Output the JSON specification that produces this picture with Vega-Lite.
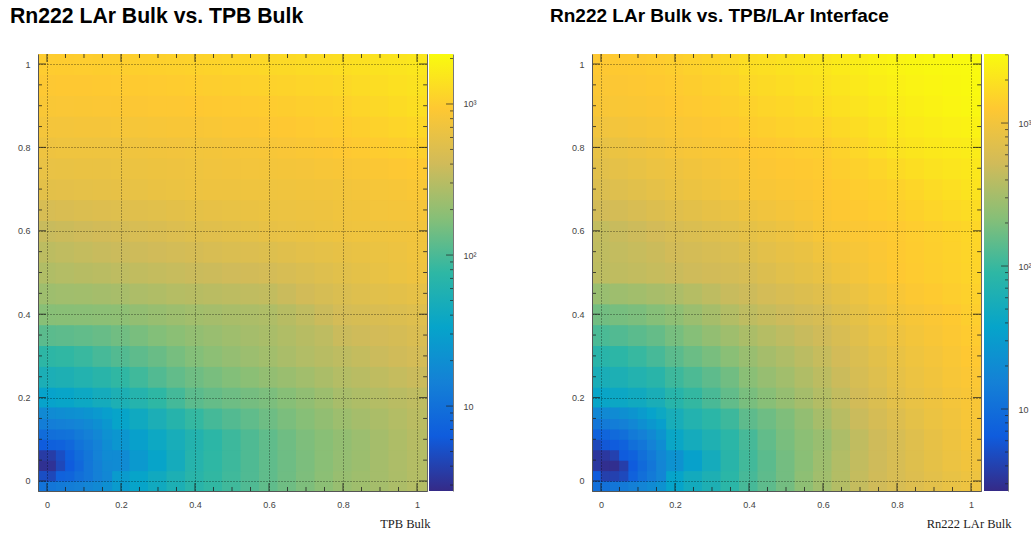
{"$schema":"https://vega.github.io/schema/vega-lite/v6.json","bounds":"flush","padding":{"left":9,"top":5,"right":0,"bottom":0},"background":"white","config":{"view":{"stroke":"#666666"},"concat":{"spacing":0},"axis":{"labelFont":"Liberation Sans","labelFontSize":9,"labelColor":"#444444"}},"datasets":{"a":[
{"x":0,"y":0,"v":10},{"x":0.05,"y":0,"v":12},{"x":0.1,"y":0,"v":15},{"x":0.15,"y":0,"v":21},{"x":0.2,"y":0,"v":30},{"x":0.25,"y":0,"v":38},{"x":0.3,"y":0,"v":48},{"x":0.35,"y":0,"v":62},{"x":0.4,"y":0,"v":80},{"x":0.45,"y":0,"v":93},{"x":0.5,"y":0,"v":108},{"x":0.55,"y":0,"v":126},{"x":0.6,"y":0,"v":148},{"x":0.65,"y":0,"v":172},{"x":0.7,"y":0,"v":198},{"x":0.75,"y":0,"v":230},{"x":0.8,"y":0,"v":265},{"x":0.85,"y":0,"v":288},{"x":0.9,"y":0,"v":312},{"x":0.95,"y":0,"v":338},{"x":1,"y":0,"v":365},
{"x":0,"y":0.05,"v":3.5},{"x":0.05,"y":0.05,"v":5},{"x":0.1,"y":0.05,"v":8},{"x":0.15,"y":0.05,"v":13},{"x":0.2,"y":0.05,"v":20},{"x":0.25,"y":0.05,"v":28},{"x":0.3,"y":0.05,"v":38},{"x":0.35,"y":0.05,"v":52},{"x":0.4,"y":0.05,"v":75},{"x":0.45,"y":0.05,"v":90},{"x":0.5,"y":0.05,"v":105},{"x":0.55,"y":0.05,"v":125},{"x":0.6,"y":0.05,"v":148},{"x":0.65,"y":0.05,"v":170},{"x":0.7,"y":0.05,"v":195},{"x":0.75,"y":0.05,"v":225},{"x":0.8,"y":0.05,"v":255},{"x":0.85,"y":0.05,"v":280},{"x":0.9,"y":0.05,"v":310},{"x":0.95,"y":0.05,"v":340},{"x":1,"y":0.05,"v":372},
{"x":0,"y":0.1,"v":8.5},{"x":0.05,"y":0.1,"v":10},{"x":0.1,"y":0.1,"v":13},{"x":0.15,"y":0.1,"v":18},{"x":0.2,"y":0.1,"v":26},{"x":0.25,"y":0.1,"v":34},{"x":0.3,"y":0.1,"v":44},{"x":0.35,"y":0.1,"v":56},{"x":0.4,"y":0.1,"v":71},{"x":0.45,"y":0.1,"v":87},{"x":0.5,"y":0.1,"v":105},{"x":0.55,"y":0.1,"v":125},{"x":0.6,"y":0.1,"v":148},{"x":0.65,"y":0.1,"v":172},{"x":0.7,"y":0.1,"v":198},{"x":0.75,"y":0.1,"v":222},{"x":0.8,"y":0.1,"v":250},{"x":0.85,"y":0.1,"v":278},{"x":0.9,"y":0.1,"v":310},{"x":0.95,"y":0.1,"v":345},{"x":1,"y":0.1,"v":380},
{"x":0,"y":0.15,"v":20},{"x":0.05,"y":0.15,"v":21},{"x":0.1,"y":0.15,"v":24},{"x":0.15,"y":0.15,"v":30},{"x":0.2,"y":0.15,"v":38},{"x":0.25,"y":0.15,"v":47},{"x":0.3,"y":0.15,"v":60},{"x":0.35,"y":0.15,"v":76},{"x":0.4,"y":0.15,"v":96},{"x":0.45,"y":0.15,"v":113},{"x":0.5,"y":0.15,"v":130},{"x":0.55,"y":0.15,"v":148},{"x":0.6,"y":0.15,"v":170},{"x":0.65,"y":0.15,"v":192},{"x":0.7,"y":0.15,"v":218},{"x":0.75,"y":0.15,"v":248},{"x":0.8,"y":0.15,"v":282},{"x":0.85,"y":0.15,"v":310},{"x":0.9,"y":0.15,"v":335},{"x":0.95,"y":0.15,"v":365},{"x":1,"y":0.15,"v":400},
{"x":0,"y":0.2,"v":36},{"x":0.05,"y":0.2,"v":39},{"x":0.1,"y":0.2,"v":44},{"x":0.15,"y":0.2,"v":52},{"x":0.2,"y":0.2,"v":62},{"x":0.25,"y":0.2,"v":74},{"x":0.3,"y":0.2,"v":90},{"x":0.35,"y":0.2,"v":112},{"x":0.4,"y":0.2,"v":140},{"x":0.45,"y":0.2,"v":155},{"x":0.5,"y":0.2,"v":170},{"x":0.55,"y":0.2,"v":182},{"x":0.6,"y":0.2,"v":195},{"x":0.65,"y":0.2,"v":218},{"x":0.7,"y":0.2,"v":245},{"x":0.75,"y":0.2,"v":280},{"x":0.8,"y":0.2,"v":320},{"x":0.85,"y":0.2,"v":345},{"x":0.9,"y":0.2,"v":370},{"x":0.95,"y":0.2,"v":395},{"x":1,"y":0.2,"v":420},
{"x":0,"y":0.25,"v":60},{"x":0.05,"y":0.25,"v":63},{"x":0.1,"y":0.25,"v":70},{"x":0.15,"y":0.25,"v":80},{"x":0.2,"y":0.25,"v":92},{"x":0.25,"y":0.25,"v":108},{"x":0.3,"y":0.25,"v":128},{"x":0.35,"y":0.25,"v":150},{"x":0.4,"y":0.25,"v":172},{"x":0.45,"y":0.25,"v":190},{"x":0.5,"y":0.25,"v":208},{"x":0.55,"y":0.25,"v":228},{"x":0.6,"y":0.25,"v":250},{"x":0.65,"y":0.25,"v":272},{"x":0.7,"y":0.25,"v":300},{"x":0.75,"y":0.25,"v":335},{"x":0.8,"y":0.25,"v":370},{"x":0.85,"y":0.25,"v":395},{"x":0.9,"y":0.25,"v":425},{"x":0.95,"y":0.25,"v":455},{"x":1,"y":0.25,"v":480},
{"x":0,"y":0.3,"v":88},{"x":0.05,"y":0.3,"v":92},{"x":0.1,"y":0.3,"v":100},{"x":0.15,"y":0.3,"v":115},{"x":0.2,"y":0.3,"v":130},{"x":0.25,"y":0.3,"v":145},{"x":0.3,"y":0.3,"v":162},{"x":0.35,"y":0.3,"v":185},{"x":0.4,"y":0.3,"v":210},{"x":0.45,"y":0.3,"v":232},{"x":0.5,"y":0.3,"v":255},{"x":0.55,"y":0.3,"v":278},{"x":0.6,"y":0.3,"v":300},{"x":0.65,"y":0.3,"v":330},{"x":0.7,"y":0.3,"v":360},{"x":0.75,"y":0.3,"v":390},{"x":0.8,"y":0.3,"v":420},{"x":0.85,"y":0.3,"v":450},{"x":0.9,"y":0.3,"v":485},{"x":0.95,"y":0.3,"v":520},{"x":1,"y":0.3,"v":550},
{"x":0,"y":0.35,"v":140},{"x":0.05,"y":0.35,"v":145},{"x":0.1,"y":0.35,"v":150},{"x":0.15,"y":0.35,"v":160},{"x":0.2,"y":0.35,"v":175},{"x":0.25,"y":0.35,"v":190},{"x":0.3,"y":0.35,"v":208},{"x":0.35,"y":0.35,"v":228},{"x":0.4,"y":0.35,"v":250},{"x":0.45,"y":0.35,"v":270},{"x":0.5,"y":0.35,"v":290},{"x":0.55,"y":0.35,"v":310},{"x":0.6,"y":0.35,"v":325},{"x":0.65,"y":0.35,"v":355},{"x":0.7,"y":0.35,"v":385},{"x":0.75,"y":0.35,"v":420},{"x":0.8,"y":0.35,"v":480},{"x":0.85,"y":0.35,"v":510},{"x":0.9,"y":0.35,"v":540},{"x":0.95,"y":0.35,"v":570},{"x":1,"y":0.35,"v":610},
{"x":0,"y":0.4,"v":220},{"x":0.05,"y":0.4,"v":222},{"x":0.1,"y":0.4,"v":225},{"x":0.15,"y":0.4,"v":230},{"x":0.2,"y":0.4,"v":235},{"x":0.25,"y":0.4,"v":250},{"x":0.3,"y":0.4,"v":265},{"x":0.35,"y":0.4,"v":282},{"x":0.4,"y":0.4,"v":300},{"x":0.45,"y":0.4,"v":312},{"x":0.5,"y":0.4,"v":325},{"x":0.55,"y":0.4,"v":338},{"x":0.6,"y":0.4,"v":350},{"x":0.65,"y":0.4,"v":385},{"x":0.7,"y":0.4,"v":430},{"x":0.75,"y":0.4,"v":490},{"x":0.8,"y":0.4,"v":550},{"x":0.85,"y":0.4,"v":580},{"x":0.9,"y":0.4,"v":610},{"x":0.95,"y":0.4,"v":640},{"x":1,"y":0.4,"v":670},
{"x":0,"y":0.45,"v":285},{"x":0.05,"y":0.45,"v":295},{"x":0.1,"y":0.45,"v":300},{"x":0.15,"y":0.45,"v":310},{"x":0.2,"y":0.45,"v":320},{"x":0.25,"y":0.45,"v":340},{"x":0.3,"y":0.45,"v":355},{"x":0.35,"y":0.45,"v":375},{"x":0.4,"y":0.45,"v":385},{"x":0.45,"y":0.45,"v":400},{"x":0.5,"y":0.45,"v":415},{"x":0.55,"y":0.45,"v":430},{"x":0.6,"y":0.45,"v":440},{"x":0.65,"y":0.45,"v":480},{"x":0.7,"y":0.45,"v":530},{"x":0.75,"y":0.45,"v":580},{"x":0.8,"y":0.45,"v":630},{"x":0.85,"y":0.45,"v":670},{"x":0.9,"y":0.45,"v":710},{"x":0.95,"y":0.45,"v":750},{"x":1,"y":0.45,"v":790},
{"x":0,"y":0.5,"v":355},{"x":0.05,"y":0.5,"v":370},{"x":0.1,"y":0.5,"v":385},{"x":0.15,"y":0.5,"v":400},{"x":0.2,"y":0.5,"v":420},{"x":0.25,"y":0.5,"v":435},{"x":0.3,"y":0.5,"v":450},{"x":0.35,"y":0.5,"v":465},{"x":0.4,"y":0.5,"v":480},{"x":0.45,"y":0.5,"v":495},{"x":0.5,"y":0.5,"v":515},{"x":0.55,"y":0.5,"v":530},{"x":0.6,"y":0.5,"v":550},{"x":0.65,"y":0.5,"v":590},{"x":0.7,"y":0.5,"v":630},{"x":0.75,"y":0.5,"v":675},{"x":0.8,"y":0.5,"v":720},{"x":0.85,"y":0.5,"v":765},{"x":0.9,"y":0.5,"v":815},{"x":0.95,"y":0.5,"v":870},{"x":1,"y":0.5,"v":930},
{"x":0,"y":0.55,"v":410},{"x":0.05,"y":0.55,"v":430},{"x":0.1,"y":0.55,"v":450},{"x":0.15,"y":0.55,"v":470},{"x":0.2,"y":0.55,"v":485},{"x":0.25,"y":0.55,"v":505},{"x":0.3,"y":0.55,"v":525},{"x":0.35,"y":0.55,"v":545},{"x":0.4,"y":0.55,"v":570},{"x":0.45,"y":0.55,"v":595},{"x":0.5,"y":0.55,"v":620},{"x":0.55,"y":0.55,"v":645},{"x":0.6,"y":0.55,"v":665},{"x":0.65,"y":0.55,"v":700},{"x":0.7,"y":0.55,"v":740},{"x":0.75,"y":0.55,"v":775},{"x":0.8,"y":0.55,"v":810},{"x":0.85,"y":0.55,"v":840},{"x":0.9,"y":0.55,"v":870},{"x":0.95,"y":0.55,"v":900},{"x":1,"y":0.55,"v":955},
{"x":0,"y":0.6,"v":470},{"x":0.05,"y":0.6,"v":490},{"x":0.1,"y":0.6,"v":510},{"x":0.15,"y":0.6,"v":535},{"x":0.2,"y":0.6,"v":560},{"x":0.25,"y":0.6,"v":585},{"x":0.3,"y":0.6,"v":615},{"x":0.35,"y":0.6,"v":645},{"x":0.4,"y":0.6,"v":680},{"x":0.45,"y":0.6,"v":705},{"x":0.5,"y":0.6,"v":735},{"x":0.55,"y":0.6,"v":765},{"x":0.6,"y":0.6,"v":800},{"x":0.65,"y":0.6,"v":830},{"x":0.7,"y":0.6,"v":860},{"x":0.75,"y":0.6,"v":890},{"x":0.8,"y":0.6,"v":920},{"x":0.85,"y":0.6,"v":935},{"x":0.9,"y":0.6,"v":950},{"x":0.95,"y":0.6,"v":965},{"x":1,"y":0.6,"v":980},
{"x":0,"y":0.65,"v":590},{"x":0.05,"y":0.65,"v":610},{"x":0.1,"y":0.65,"v":635},{"x":0.15,"y":0.65,"v":660},{"x":0.2,"y":0.65,"v":670},{"x":0.25,"y":0.65,"v":695},{"x":0.3,"y":0.65,"v":720},{"x":0.35,"y":0.65,"v":750},{"x":0.4,"y":0.65,"v":780},{"x":0.45,"y":0.65,"v":800},{"x":0.5,"y":0.65,"v":825},{"x":0.55,"y":0.65,"v":850},{"x":0.6,"y":0.65,"v":870},{"x":0.65,"y":0.65,"v":885},{"x":0.7,"y":0.65,"v":905},{"x":0.75,"y":0.65,"v":925},{"x":0.8,"y":0.65,"v":960},{"x":0.85,"y":0.65,"v":985},{"x":0.9,"y":0.65,"v":1010},{"x":0.95,"y":0.65,"v":1035},{"x":1,"y":0.65,"v":1060},
{"x":0,"y":0.7,"v":745},{"x":0.05,"y":0.7,"v":755},{"x":0.1,"y":0.7,"v":770},{"x":0.15,"y":0.7,"v":785},{"x":0.2,"y":0.7,"v":800},{"x":0.25,"y":0.7,"v":825},{"x":0.3,"y":0.7,"v":850},{"x":0.35,"y":0.7,"v":875},{"x":0.4,"y":0.7,"v":900},{"x":0.45,"y":0.7,"v":915},{"x":0.5,"y":0.7,"v":925},{"x":0.55,"y":0.7,"v":935},{"x":0.6,"y":0.7,"v":950},{"x":0.65,"y":0.7,"v":960},{"x":0.7,"y":0.7,"v":975},{"x":0.75,"y":0.7,"v":990},{"x":0.8,"y":0.7,"v":1000},{"x":0.85,"y":0.7,"v":1035},{"x":0.9,"y":0.7,"v":1070},{"x":0.95,"y":0.7,"v":1110},{"x":1,"y":0.7,"v":1150},
{"x":0,"y":0.75,"v":830},{"x":0.05,"y":0.75,"v":840},{"x":0.1,"y":0.75,"v":850},{"x":0.15,"y":0.75,"v":860},{"x":0.2,"y":0.75,"v":870},{"x":0.25,"y":0.75,"v":890},{"x":0.3,"y":0.75,"v":910},{"x":0.35,"y":0.75,"v":930},{"x":0.4,"y":0.75,"v":950},{"x":0.45,"y":0.75,"v":970},{"x":0.5,"y":0.75,"v":990},{"x":0.55,"y":0.75,"v":1010},{"x":0.6,"y":0.75,"v":1025},{"x":0.65,"y":0.75,"v":1045},{"x":0.7,"y":0.75,"v":1065},{"x":0.75,"y":0.75,"v":1090},{"x":0.8,"y":0.75,"v":1115},{"x":0.85,"y":0.75,"v":1155},{"x":0.9,"y":0.75,"v":1200},{"x":0.95,"y":0.75,"v":1245},{"x":1,"y":0.75,"v":1290},
{"x":0,"y":0.8,"v":930},{"x":0.05,"y":0.8,"v":935},{"x":0.1,"y":0.8,"v":940},{"x":0.15,"y":0.8,"v":945},{"x":0.2,"y":0.8,"v":950},{"x":0.25,"y":0.8,"v":960},{"x":0.3,"y":0.8,"v":975},{"x":0.35,"y":0.8,"v":990},{"x":0.4,"y":0.8,"v":1000},{"x":0.45,"y":0.8,"v":1025},{"x":0.5,"y":0.8,"v":1050},{"x":0.55,"y":0.8,"v":1075},{"x":0.6,"y":0.8,"v":1100},{"x":0.65,"y":0.8,"v":1135},{"x":0.7,"y":0.8,"v":1170},{"x":0.75,"y":0.8,"v":1210},{"x":0.8,"y":0.8,"v":1250},{"x":0.85,"y":0.8,"v":1295},{"x":0.9,"y":0.8,"v":1345},{"x":0.95,"y":0.8,"v":1395},{"x":1,"y":0.8,"v":1450},
{"x":0,"y":0.85,"v":1030},{"x":0.05,"y":0.85,"v":1040},{"x":0.1,"y":0.85,"v":1050},{"x":0.15,"y":0.85,"v":1060},{"x":0.2,"y":0.85,"v":1070},{"x":0.25,"y":0.85,"v":1085},{"x":0.3,"y":0.85,"v":1100},{"x":0.35,"y":0.85,"v":1115},{"x":0.4,"y":0.85,"v":1130},{"x":0.45,"y":0.85,"v":1155},{"x":0.5,"y":0.85,"v":1180},{"x":0.55,"y":0.85,"v":1205},{"x":0.6,"y":0.85,"v":1225},{"x":0.65,"y":0.85,"v":1260},{"x":0.7,"y":0.85,"v":1300},{"x":0.75,"y":0.85,"v":1340},{"x":0.8,"y":0.85,"v":1375},{"x":0.85,"y":0.85,"v":1430},{"x":0.9,"y":0.85,"v":1500},{"x":0.95,"y":0.85,"v":1570},{"x":1,"y":0.85,"v":1640},
{"x":0,"y":0.9,"v":1150},{"x":0.05,"y":0.9,"v":1160},{"x":0.1,"y":0.9,"v":1170},{"x":0.15,"y":0.9,"v":1185},{"x":0.2,"y":0.9,"v":1200},{"x":0.25,"y":0.9,"v":1215},{"x":0.3,"y":0.9,"v":1230},{"x":0.35,"y":0.9,"v":1245},{"x":0.4,"y":0.9,"v":1260},{"x":0.45,"y":0.9,"v":1280},{"x":0.5,"y":0.9,"v":1305},{"x":0.55,"y":0.9,"v":1330},{"x":0.6,"y":0.9,"v":1350},{"x":0.65,"y":0.9,"v":1385},{"x":0.7,"y":0.9,"v":1420},{"x":0.75,"y":0.9,"v":1460},{"x":0.8,"y":0.9,"v":1500},{"x":0.85,"y":0.9,"v":1575},{"x":0.9,"y":0.9,"v":1660},{"x":0.95,"y":0.9,"v":1755},{"x":1,"y":0.9,"v":1850},
{"x":0,"y":0.95,"v":1240},{"x":0.05,"y":0.95,"v":1250},{"x":0.1,"y":0.95,"v":1265},{"x":0.15,"y":0.95,"v":1280},{"x":0.2,"y":0.95,"v":1295},{"x":0.25,"y":0.95,"v":1310},{"x":0.3,"y":0.95,"v":1330},{"x":0.35,"y":0.95,"v":1355},{"x":0.4,"y":0.95,"v":1375},{"x":0.45,"y":0.95,"v":1400},{"x":0.5,"y":0.95,"v":1430},{"x":0.55,"y":0.95,"v":1465},{"x":0.6,"y":0.95,"v":1495},{"x":0.65,"y":0.95,"v":1530},{"x":0.7,"y":0.95,"v":1565},{"x":0.75,"y":0.95,"v":1605},{"x":0.8,"y":0.95,"v":1670},{"x":0.85,"y":0.95,"v":1740},{"x":0.9,"y":0.95,"v":1820},{"x":0.95,"y":0.95,"v":1895},{"x":1,"y":0.95,"v":1970},
{"x":0,"y":1,"v":1340},{"x":0.05,"y":1,"v":1350},{"x":0.1,"y":1,"v":1365},{"x":0.15,"y":1,"v":1385},{"x":0.2,"y":1,"v":1400},{"x":0.25,"y":1,"v":1425},{"x":0.3,"y":1,"v":1450},{"x":0.35,"y":1,"v":1475},{"x":0.4,"y":1,"v":1500},{"x":0.45,"y":1,"v":1535},{"x":0.5,"y":1,"v":1570},{"x":0.55,"y":1,"v":1610},{"x":0.6,"y":1,"v":1650},{"x":0.65,"y":1,"v":1690},{"x":0.7,"y":1,"v":1740},{"x":0.75,"y":1,"v":1795},{"x":0.8,"y":1,"v":1850},{"x":0.85,"y":1,"v":1905},{"x":0.9,"y":1,"v":1965},{"x":0.95,"y":1,"v":2030},{"x":1,"y":1,"v":2100}],
"af":[
{"x":-0.0125,"y":-0.0125,"v":11},{"x":0.0125,"y":-0.0125,"v":12},{"x":0.0375,"y":-0.0125,"v":13},{"x":0.0625,"y":-0.0125,"v":14},{"x":0.0875,"y":-0.0125,"v":15},{"x":0.1125,"y":-0.0125,"v":17},{"x":0.1375,"y":-0.0125,"v":19},{"x":0.1625,"y":-0.0125,"v":22},
{"x":-0.0125,"y":0.0125,"v":5},{"x":0.0125,"y":0.0125,"v":4.5},{"x":0.0375,"y":0.0125,"v":7.5},{"x":0.0625,"y":0.0125,"v":8},{"x":0.0875,"y":0.0125,"v":10},{"x":0.1125,"y":0.0125,"v":12},{"x":0.1375,"y":0.0125,"v":15},{"x":0.1625,"y":0.0125,"v":18},
{"x":-0.0125,"y":0.0375,"v":3},{"x":0.0125,"y":0.0375,"v":3.1},{"x":0.0375,"y":0.0375,"v":4.5},{"x":0.0625,"y":0.0375,"v":6.5},{"x":0.0875,"y":0.0375,"v":8.5},{"x":0.1125,"y":0.0375,"v":12},{"x":0.1375,"y":0.0375,"v":15},{"x":0.1625,"y":0.0375,"v":19},
{"x":-0.0125,"y":0.0625,"v":3.6},{"x":0.0125,"y":0.0625,"v":3.7},{"x":0.0375,"y":0.0625,"v":5},{"x":0.0625,"y":0.0625,"v":7},{"x":0.0875,"y":0.0625,"v":9.5},{"x":0.1125,"y":0.0625,"v":12},{"x":0.1375,"y":0.0625,"v":16},{"x":0.1625,"y":0.0625,"v":20},
{"x":-0.0125,"y":0.0875,"v":6.5},{"x":0.0125,"y":0.0875,"v":7},{"x":0.0375,"y":0.0875,"v":7.5},{"x":0.0625,"y":0.0875,"v":8.5},{"x":0.0875,"y":0.0875,"v":11},{"x":0.1125,"y":0.0875,"v":13},{"x":0.1375,"y":0.0875,"v":16},{"x":0.1625,"y":0.0875,"v":21},
{"x":-0.0125,"y":0.1125,"v":9.5},{"x":0.0125,"y":0.1125,"v":10},{"x":0.0375,"y":0.1125,"v":10.5},{"x":0.0625,"y":0.1125,"v":11},{"x":0.0875,"y":0.1125,"v":13},{"x":0.1125,"y":0.1125,"v":15},{"x":0.1375,"y":0.1125,"v":18},{"x":0.1625,"y":0.1125,"v":23},
{"x":-0.0125,"y":0.1375,"v":14},{"x":0.0125,"y":0.1375,"v":14.5},{"x":0.0375,"y":0.1375,"v":15},{"x":0.0625,"y":0.1375,"v":16},{"x":0.0875,"y":0.1375,"v":17},{"x":0.1125,"y":0.1375,"v":19},{"x":0.1375,"y":0.1375,"v":22},{"x":0.1625,"y":0.1375,"v":27},
{"x":-0.0125,"y":0.1625,"v":19},{"x":0.0125,"y":0.1625,"v":20},{"x":0.0375,"y":0.1625,"v":21},{"x":0.0625,"y":0.1625,"v":22},{"x":0.0875,"y":0.1625,"v":23},{"x":0.1125,"y":0.1625,"v":25},{"x":0.1375,"y":0.1625,"v":28},{"x":0.1625,"y":0.1625,"v":33}],
"b":[
{"x":0,"y":0,"v":10},{"x":0.05,"y":0,"v":12},{"x":0.1,"y":0,"v":17},{"x":0.15,"y":0,"v":25},{"x":0.2,"y":0,"v":37},{"x":0.25,"y":0,"v":50},{"x":0.3,"y":0,"v":63},{"x":0.35,"y":0,"v":85},{"x":0.4,"y":0,"v":115},{"x":0.45,"y":0,"v":145},{"x":0.5,"y":0,"v":180},{"x":0.55,"y":0,"v":235},{"x":0.6,"y":0,"v":295},{"x":0.65,"y":0,"v":365},{"x":0.7,"y":0,"v":450},{"x":0.75,"y":0,"v":520},{"x":0.8,"y":0,"v":590},{"x":0.85,"y":0,"v":660},{"x":0.9,"y":0,"v":740},{"x":0.95,"y":0,"v":820},{"x":1,"y":0,"v":900},
{"x":0,"y":0.05,"v":3.2},{"x":0.05,"y":0.05,"v":4.5},{"x":0.1,"y":0.05,"v":7.5},{"x":0.15,"y":0.05,"v":13},{"x":0.2,"y":0.05,"v":24},{"x":0.25,"y":0.05,"v":35},{"x":0.3,"y":0.05,"v":52},{"x":0.35,"y":0.05,"v":80},{"x":0.4,"y":0.05,"v":110},{"x":0.45,"y":0.05,"v":140},{"x":0.5,"y":0.05,"v":180},{"x":0.55,"y":0.05,"v":225},{"x":0.6,"y":0.05,"v":285},{"x":0.65,"y":0.05,"v":360},{"x":0.7,"y":0.05,"v":440},{"x":0.75,"y":0.05,"v":510},{"x":0.8,"y":0.05,"v":590},{"x":0.85,"y":0.05,"v":680},{"x":0.9,"y":0.05,"v":780},{"x":0.95,"y":0.05,"v":880},{"x":1,"y":0.05,"v":980},
{"x":0,"y":0.1,"v":6},{"x":0.05,"y":0.1,"v":8},{"x":0.1,"y":0.1,"v":15},{"x":0.15,"y":0.1,"v":24},{"x":0.2,"y":0.1,"v":41},{"x":0.25,"y":0.1,"v":52},{"x":0.3,"y":0.1,"v":65},{"x":0.35,"y":0.1,"v":85},{"x":0.4,"y":0.1,"v":115},{"x":0.45,"y":0.1,"v":150},{"x":0.5,"y":0.1,"v":190},{"x":0.55,"y":0.1,"v":230},{"x":0.6,"y":0.1,"v":270},{"x":0.65,"y":0.1,"v":340},{"x":0.7,"y":0.1,"v":430},{"x":0.75,"y":0.1,"v":510},{"x":0.8,"y":0.1,"v":590},{"x":0.85,"y":0.1,"v":690},{"x":0.9,"y":0.1,"v":810},{"x":0.95,"y":0.1,"v":930},{"x":1,"y":0.1,"v":1050},
{"x":0,"y":0.15,"v":20},{"x":0.05,"y":0.15,"v":22},{"x":0.1,"y":0.15,"v":26},{"x":0.15,"y":0.15,"v":32},{"x":0.2,"y":0.15,"v":56},{"x":0.25,"y":0.15,"v":70},{"x":0.3,"y":0.15,"v":85},{"x":0.35,"y":0.15,"v":105},{"x":0.4,"y":0.15,"v":145},{"x":0.45,"y":0.15,"v":170},{"x":0.5,"y":0.15,"v":200},{"x":0.55,"y":0.15,"v":250},{"x":0.6,"y":0.15,"v":315},{"x":0.65,"y":0.15,"v":390},{"x":0.7,"y":0.15,"v":480},{"x":0.75,"y":0.15,"v":570},{"x":0.8,"y":0.15,"v":660},{"x":0.85,"y":0.15,"v":760},{"x":0.9,"y":0.15,"v":870},{"x":0.95,"y":0.15,"v":980},{"x":1,"y":0.15,"v":1090},
{"x":0,"y":0.2,"v":40},{"x":0.05,"y":0.2,"v":43},{"x":0.1,"y":0.2,"v":48},{"x":0.15,"y":0.2,"v":58},{"x":0.2,"y":0.2,"v":78},{"x":0.25,"y":0.2,"v":95},{"x":0.3,"y":0.2,"v":118},{"x":0.35,"y":0.2,"v":150},{"x":0.4,"y":0.2,"v":190},{"x":0.45,"y":0.2,"v":220},{"x":0.5,"y":0.2,"v":260},{"x":0.55,"y":0.2,"v":310},{"x":0.6,"y":0.2,"v":366},{"x":0.65,"y":0.2,"v":440},{"x":0.7,"y":0.2,"v":530},{"x":0.75,"y":0.2,"v":630},{"x":0.8,"y":0.2,"v":740},{"x":0.85,"y":0.2,"v":830},{"x":0.9,"y":0.2,"v":930},{"x":0.95,"y":0.2,"v":1030},{"x":1,"y":0.2,"v":1130},
{"x":0,"y":0.25,"v":58},{"x":0.05,"y":0.25,"v":62},{"x":0.1,"y":0.25,"v":70},{"x":0.15,"y":0.25,"v":80},{"x":0.2,"y":0.25,"v":105},{"x":0.25,"y":0.25,"v":122},{"x":0.3,"y":0.25,"v":145},{"x":0.35,"y":0.25,"v":175},{"x":0.4,"y":0.25,"v":225},{"x":0.45,"y":0.25,"v":262},{"x":0.5,"y":0.25,"v":300},{"x":0.55,"y":0.25,"v":355},{"x":0.6,"y":0.25,"v":410},{"x":0.65,"y":0.25,"v":490},{"x":0.7,"y":0.25,"v":580},{"x":0.75,"y":0.25,"v":670},{"x":0.8,"y":0.25,"v":790},{"x":0.85,"y":0.25,"v":880},{"x":0.9,"y":0.25,"v":980},{"x":0.95,"y":0.25,"v":1090},{"x":1,"y":0.25,"v":1190},
{"x":0,"y":0.3,"v":80},{"x":0.05,"y":0.3,"v":86},{"x":0.1,"y":0.3,"v":98},{"x":0.15,"y":0.3,"v":115},{"x":0.2,"y":0.3,"v":140},{"x":0.25,"y":0.3,"v":165},{"x":0.3,"y":0.3,"v":190},{"x":0.35,"y":0.3,"v":225},{"x":0.4,"y":0.3,"v":270},{"x":0.45,"y":0.3,"v":310},{"x":0.5,"y":0.3,"v":350},{"x":0.55,"y":0.3,"v":405},{"x":0.6,"y":0.3,"v":460},{"x":0.65,"y":0.3,"v":540},{"x":0.7,"y":0.3,"v":630},{"x":0.75,"y":0.3,"v":730},{"x":0.8,"y":0.3,"v":840},{"x":0.85,"y":0.3,"v":940},{"x":0.9,"y":0.3,"v":1040},{"x":0.95,"y":0.3,"v":1150},{"x":1,"y":0.3,"v":1260},
{"x":0,"y":0.35,"v":120},{"x":0.05,"y":0.35,"v":128},{"x":0.1,"y":0.35,"v":140},{"x":0.15,"y":0.35,"v":155},{"x":0.2,"y":0.35,"v":185},{"x":0.25,"y":0.35,"v":215},{"x":0.3,"y":0.35,"v":250},{"x":0.35,"y":0.35,"v":290},{"x":0.4,"y":0.35,"v":335},{"x":0.45,"y":0.35,"v":375},{"x":0.5,"y":0.35,"v":420},{"x":0.55,"y":0.35,"v":470},{"x":0.6,"y":0.35,"v":520},{"x":0.65,"y":0.35,"v":600},{"x":0.7,"y":0.35,"v":700},{"x":0.75,"y":0.35,"v":820},{"x":0.8,"y":0.35,"v":930},{"x":0.85,"y":0.35,"v":1020},{"x":0.9,"y":0.35,"v":1120},{"x":0.95,"y":0.35,"v":1220},{"x":1,"y":0.35,"v":1330},
{"x":0,"y":0.4,"v":177},{"x":0.05,"y":0.4,"v":185},{"x":0.1,"y":0.4,"v":195},{"x":0.15,"y":0.4,"v":215},{"x":0.2,"y":0.4,"v":240},{"x":0.25,"y":0.4,"v":275},{"x":0.3,"y":0.4,"v":315},{"x":0.35,"y":0.4,"v":365},{"x":0.4,"y":0.4,"v":420},{"x":0.45,"y":0.4,"v":460},{"x":0.5,"y":0.4,"v":500},{"x":0.55,"y":0.4,"v":545},{"x":0.6,"y":0.4,"v":590},{"x":0.65,"y":0.4,"v":680},{"x":0.7,"y":0.4,"v":780},{"x":0.75,"y":0.4,"v":900},{"x":0.8,"y":0.4,"v":1020},{"x":0.85,"y":0.4,"v":1100},{"x":0.9,"y":0.4,"v":1190},{"x":0.95,"y":0.4,"v":1290},{"x":1,"y":0.4,"v":1400},
{"x":0,"y":0.45,"v":270},{"x":0.05,"y":0.45,"v":285},{"x":0.1,"y":0.45,"v":300},{"x":0.15,"y":0.45,"v":320},{"x":0.2,"y":0.45,"v":340},{"x":0.25,"y":0.45,"v":375},{"x":0.3,"y":0.45,"v":420},{"x":0.35,"y":0.45,"v":470},{"x":0.4,"y":0.45,"v":500},{"x":0.45,"y":0.45,"v":550},{"x":0.5,"y":0.45,"v":600},{"x":0.55,"y":0.45,"v":650},{"x":0.6,"y":0.45,"v":700},{"x":0.65,"y":0.45,"v":780},{"x":0.7,"y":0.45,"v":880},{"x":0.75,"y":0.45,"v":1000},{"x":0.8,"y":0.45,"v":1130},{"x":0.85,"y":0.45,"v":1220},{"x":0.9,"y":0.45,"v":1310},{"x":0.95,"y":0.45,"v":1390},{"x":1,"y":0.45,"v":1470},
{"x":0,"y":0.5,"v":410},{"x":0.05,"y":0.5,"v":425},{"x":0.1,"y":0.5,"v":440},{"x":0.15,"y":0.5,"v":460},{"x":0.2,"y":0.5,"v":480},{"x":0.25,"y":0.5,"v":510},{"x":0.3,"y":0.5,"v":530},{"x":0.35,"y":0.5,"v":560},{"x":0.4,"y":0.5,"v":590},{"x":0.45,"y":0.5,"v":650},{"x":0.5,"y":0.5,"v":720},{"x":0.55,"y":0.5,"v":780},{"x":0.6,"y":0.5,"v":840},{"x":0.65,"y":0.5,"v":940},{"x":0.7,"y":0.5,"v":1040},{"x":0.75,"y":0.5,"v":1150},{"x":0.8,"y":0.5,"v":1260},{"x":0.85,"y":0.5,"v":1330},{"x":0.9,"y":0.5,"v":1400},{"x":0.95,"y":0.5,"v":1470},{"x":1,"y":0.5,"v":1550},
{"x":0,"y":0.55,"v":425},{"x":0.05,"y":0.55,"v":445},{"x":0.1,"y":0.55,"v":465},{"x":0.15,"y":0.55,"v":490},{"x":0.2,"y":0.55,"v":530},{"x":0.25,"y":0.55,"v":560},{"x":0.3,"y":0.55,"v":590},{"x":0.35,"y":0.55,"v":630},{"x":0.4,"y":0.55,"v":680},{"x":0.45,"y":0.55,"v":740},{"x":0.5,"y":0.55,"v":800},{"x":0.55,"y":0.55,"v":860},{"x":0.6,"y":0.55,"v":960},{"x":0.65,"y":0.55,"v":1030},{"x":0.7,"y":0.55,"v":1110},{"x":0.75,"y":0.55,"v":1190},{"x":0.8,"y":0.55,"v":1280},{"x":0.85,"y":0.55,"v":1350},{"x":0.9,"y":0.55,"v":1420},{"x":0.95,"y":0.55,"v":1500},{"x":1,"y":0.55,"v":1580},
{"x":0,"y":0.6,"v":440},{"x":0.05,"y":0.6,"v":470},{"x":0.1,"y":0.6,"v":500},{"x":0.15,"y":0.6,"v":540},{"x":0.2,"y":0.6,"v":590},{"x":0.25,"y":0.6,"v":630},{"x":0.3,"y":0.6,"v":670},{"x":0.35,"y":0.6,"v":720},{"x":0.4,"y":0.6,"v":780},{"x":0.45,"y":0.6,"v":840},{"x":0.5,"y":0.6,"v":900},{"x":0.55,"y":0.6,"v":990},{"x":0.6,"y":0.6,"v":1090},{"x":0.65,"y":0.6,"v":1150},{"x":0.7,"y":0.6,"v":1190},{"x":0.75,"y":0.6,"v":1240},{"x":0.8,"y":0.6,"v":1300},{"x":0.85,"y":0.6,"v":1370},{"x":0.9,"y":0.6,"v":1440},{"x":0.95,"y":0.6,"v":1520},{"x":1,"y":0.6,"v":1600},
{"x":0,"y":0.65,"v":530},{"x":0.05,"y":0.65,"v":560},{"x":0.1,"y":0.65,"v":600},{"x":0.15,"y":0.65,"v":650},{"x":0.2,"y":0.65,"v":700},{"x":0.25,"y":0.65,"v":750},{"x":0.3,"y":0.65,"v":810},{"x":0.35,"y":0.65,"v":860},{"x":0.4,"y":0.65,"v":920},{"x":0.45,"y":0.65,"v":970},{"x":0.5,"y":0.65,"v":1030},{"x":0.55,"y":0.65,"v":1100},{"x":0.6,"y":0.65,"v":1170},{"x":0.65,"y":0.65,"v":1230},{"x":0.7,"y":0.65,"v":1290},{"x":0.75,"y":0.65,"v":1350},{"x":0.8,"y":0.65,"v":1400},{"x":0.85,"y":0.65,"v":1480},{"x":0.9,"y":0.65,"v":1570},{"x":0.95,"y":0.65,"v":1680},{"x":1,"y":0.65,"v":1790},
{"x":0,"y":0.7,"v":640},{"x":0.05,"y":0.7,"v":670},{"x":0.1,"y":0.7,"v":710},{"x":0.15,"y":0.7,"v":770},{"x":0.2,"y":0.7,"v":840},{"x":0.25,"y":0.7,"v":890},{"x":0.3,"y":0.7,"v":950},{"x":0.35,"y":0.7,"v":1020},{"x":0.4,"y":0.7,"v":1090},{"x":0.45,"y":0.7,"v":1130},{"x":0.5,"y":0.7,"v":1170},{"x":0.55,"y":0.7,"v":1210},{"x":0.6,"y":0.7,"v":1260},{"x":0.65,"y":0.7,"v":1310},{"x":0.7,"y":0.7,"v":1370},{"x":0.75,"y":0.7,"v":1430},{"x":0.8,"y":0.7,"v":1510},{"x":0.85,"y":0.7,"v":1610},{"x":0.9,"y":0.7,"v":1740},{"x":0.95,"y":0.7,"v":1870},{"x":1,"y":0.7,"v":2000},
{"x":0,"y":0.75,"v":730},{"x":0.05,"y":0.75,"v":770},{"x":0.1,"y":0.75,"v":820},{"x":0.15,"y":0.75,"v":880},{"x":0.2,"y":0.75,"v":930},{"x":0.25,"y":0.75,"v":980},{"x":0.3,"y":0.75,"v":1040},{"x":0.35,"y":0.75,"v":1100},{"x":0.4,"y":0.75,"v":1170},{"x":0.45,"y":0.75,"v":1210},{"x":0.5,"y":0.75,"v":1250},{"x":0.55,"y":0.75,"v":1290},{"x":0.6,"y":0.75,"v":1330},{"x":0.65,"y":0.75,"v":1390},{"x":0.7,"y":0.75,"v":1470},{"x":0.75,"y":0.75,"v":1580},{"x":0.8,"y":0.75,"v":1730},{"x":0.85,"y":0.75,"v":1850},{"x":0.9,"y":0.75,"v":1970},{"x":0.95,"y":0.75,"v":2070},{"x":1,"y":0.75,"v":2170},
{"x":0,"y":0.8,"v":820},{"x":0.05,"y":0.8,"v":870},{"x":0.1,"y":0.8,"v":920},{"x":0.15,"y":0.8,"v":980},{"x":0.2,"y":0.8,"v":1050},{"x":0.25,"y":0.8,"v":1100},{"x":0.3,"y":0.8,"v":1150},{"x":0.35,"y":0.8,"v":1200},{"x":0.4,"y":0.8,"v":1260},{"x":0.45,"y":0.8,"v":1290},{"x":0.5,"y":0.8,"v":1330},{"x":0.55,"y":0.8,"v":1370},{"x":0.6,"y":0.8,"v":1400},{"x":0.65,"y":0.8,"v":1490},{"x":0.7,"y":0.8,"v":1620},{"x":0.75,"y":0.8,"v":1800},{"x":0.8,"y":0.8,"v":1980},{"x":0.85,"y":0.8,"v":2090},{"x":0.9,"y":0.8,"v":2200},{"x":0.95,"y":0.8,"v":2280},{"x":1,"y":0.8,"v":2350},
{"x":0,"y":0.85,"v":970},{"x":0.05,"y":0.85,"v":1010},{"x":0.1,"y":0.85,"v":1050},{"x":0.15,"y":0.85,"v":1100},{"x":0.2,"y":0.85,"v":1150},{"x":0.25,"y":0.85,"v":1190},{"x":0.3,"y":0.85,"v":1240},{"x":0.35,"y":0.85,"v":1300},{"x":0.4,"y":0.85,"v":1380},{"x":0.45,"y":0.85,"v":1430},{"x":0.5,"y":0.85,"v":1490},{"x":0.55,"y":0.85,"v":1540},{"x":0.6,"y":0.85,"v":1590},{"x":0.65,"y":0.85,"v":1690},{"x":0.7,"y":0.85,"v":1800},{"x":0.75,"y":0.85,"v":1960},{"x":0.8,"y":0.85,"v":2150},{"x":0.85,"y":0.85,"v":2280},{"x":0.9,"y":0.85,"v":2400},{"x":0.95,"y":0.85,"v":2500},{"x":1,"y":0.85,"v":2600},
{"x":0,"y":0.9,"v":1130},{"x":0.05,"y":0.9,"v":1150},{"x":0.1,"y":0.9,"v":1170},{"x":0.15,"y":0.9,"v":1210},{"x":0.2,"y":0.9,"v":1260},{"x":0.25,"y":0.9,"v":1300},{"x":0.3,"y":0.9,"v":1350},{"x":0.35,"y":0.9,"v":1420},{"x":0.4,"y":0.9,"v":1510},{"x":0.45,"y":0.9,"v":1570},{"x":0.5,"y":0.9,"v":1640},{"x":0.55,"y":0.9,"v":1720},{"x":0.6,"y":0.9,"v":1800},{"x":0.65,"y":0.9,"v":1900},{"x":0.7,"y":0.9,"v":2030},{"x":0.75,"y":0.9,"v":2190},{"x":0.8,"y":0.9,"v":2350},{"x":0.85,"y":0.9,"v":2470},{"x":0.9,"y":0.9,"v":2600},{"x":0.95,"y":0.9,"v":2730},{"x":1,"y":0.9,"v":2850},
{"x":0,"y":0.95,"v":1190},{"x":0.05,"y":0.95,"v":1210},{"x":0.1,"y":0.95,"v":1240},{"x":0.15,"y":0.95,"v":1280},{"x":0.2,"y":0.95,"v":1330},{"x":0.25,"y":0.95,"v":1380},{"x":0.3,"y":0.95,"v":1450},{"x":0.35,"y":0.95,"v":1530},{"x":0.4,"y":0.95,"v":1650},{"x":0.45,"y":0.95,"v":1730},{"x":0.5,"y":0.95,"v":1820},{"x":0.55,"y":0.95,"v":1900},{"x":0.6,"y":0.95,"v":1960},{"x":0.65,"y":0.95,"v":2070},{"x":0.7,"y":0.95,"v":2210},{"x":0.75,"y":0.95,"v":2370},{"x":0.8,"y":0.95,"v":2520},{"x":0.85,"y":0.95,"v":2640},{"x":0.9,"y":0.95,"v":2760},{"x":0.95,"y":0.95,"v":2860},{"x":1,"y":0.95,"v":2950},
{"x":0,"y":1,"v":1260},{"x":0.05,"y":1,"v":1280},{"x":0.1,"y":1,"v":1310},{"x":0.15,"y":1,"v":1350},{"x":0.2,"y":1,"v":1400},{"x":0.25,"y":1,"v":1470},{"x":0.3,"y":1,"v":1560},{"x":0.35,"y":1,"v":1670},{"x":0.4,"y":1,"v":1800},{"x":0.45,"y":1,"v":1880},{"x":0.5,"y":1,"v":1960},{"x":0.55,"y":1,"v":2040},{"x":0.6,"y":1,"v":2130},{"x":0.65,"y":1,"v":2260},{"x":0.7,"y":1,"v":2400},{"x":0.75,"y":1,"v":2560},{"x":0.8,"y":1,"v":2700},{"x":0.85,"y":1,"v":2800},{"x":0.9,"y":1,"v":2880},{"x":0.95,"y":1,"v":2950},{"x":1,"y":1,"v":3000}],
"bf":[
{"x":-0.0125,"y":-0.0125,"v":10},{"x":0.0125,"y":-0.0125,"v":10.5},{"x":0.0375,"y":-0.0125,"v":12},{"x":0.0625,"y":-0.0125,"v":13},{"x":0.0875,"y":-0.0125,"v":15},{"x":0.1125,"y":-0.0125,"v":17},{"x":0.1375,"y":-0.0125,"v":20},{"x":0.1625,"y":-0.0125,"v":24},
{"x":-0.0125,"y":0.0125,"v":6.5},{"x":0.0125,"y":0.0125,"v":3.9},{"x":0.0375,"y":0.0125,"v":4},{"x":0.0625,"y":0.0125,"v":4.6},{"x":0.0875,"y":0.0125,"v":7.5},{"x":0.1125,"y":0.0125,"v":10},{"x":0.1375,"y":0.0125,"v":13},{"x":0.1625,"y":0.0125,"v":17},
{"x":-0.0125,"y":0.0375,"v":3.4},{"x":0.0125,"y":0.0375,"v":2.9},{"x":0.0375,"y":0.0375,"v":2.9},{"x":0.0625,"y":0.0375,"v":3.8},{"x":0.0875,"y":0.0375,"v":6.5},{"x":0.1125,"y":0.0375,"v":9},{"x":0.1375,"y":0.0375,"v":12},{"x":0.1625,"y":0.0375,"v":17},
{"x":-0.0125,"y":0.0625,"v":3.3},{"x":0.0125,"y":0.0625,"v":3.4},{"x":0.0375,"y":0.0625,"v":4},{"x":0.0625,"y":0.0625,"v":6.5},{"x":0.0875,"y":0.0625,"v":7.5},{"x":0.1125,"y":0.0625,"v":10},{"x":0.1375,"y":0.0625,"v":13},{"x":0.1625,"y":0.0625,"v":18},
{"x":-0.0125,"y":0.0875,"v":4.5},{"x":0.0125,"y":0.0875,"v":6},{"x":0.0375,"y":0.0875,"v":6.5},{"x":0.0625,"y":0.0875,"v":7.5},{"x":0.0875,"y":0.0875,"v":10},{"x":0.1125,"y":0.0875,"v":12},{"x":0.1375,"y":0.0875,"v":16},{"x":0.1625,"y":0.0875,"v":21},
{"x":-0.0125,"y":0.1125,"v":7.5},{"x":0.0125,"y":0.1125,"v":8},{"x":0.0375,"y":0.1125,"v":9},{"x":0.0625,"y":0.1125,"v":10},{"x":0.0875,"y":0.1125,"v":13},{"x":0.1125,"y":0.1125,"v":15},{"x":0.1375,"y":0.1125,"v":19},{"x":0.1625,"y":0.1125,"v":25},
{"x":-0.0125,"y":0.1375,"v":12},{"x":0.0125,"y":0.1375,"v":13},{"x":0.0375,"y":0.1375,"v":14},{"x":0.0625,"y":0.1375,"v":15},{"x":0.0875,"y":0.1375,"v":18},{"x":0.1125,"y":0.1375,"v":22},{"x":0.1375,"y":0.1375,"v":27},{"x":0.1625,"y":0.1375,"v":33},
{"x":-0.0125,"y":0.1625,"v":18},{"x":0.0125,"y":0.1625,"v":19},{"x":0.0375,"y":0.1625,"v":20},{"x":0.0625,"y":0.1625,"v":22},{"x":0.0875,"y":0.1625,"v":25},{"x":0.1125,"y":0.1625,"v":30},{"x":0.1375,"y":0.1625,"v":36},{"x":0.1625,"y":0.1625,"v":44}],
"t":[{"t":0,"a":-0.005,"b":1.005,"c":-0.0027,"d":1.0054,"yb":-0.024,"yt":1.024,"xl":-0.0243,"xr":1.027},{"t":0.05,"a":-0.0144,"b":1.0144,"c":-0.0135,"d":1.0165,"yb":-0.024,"yt":1.024,"xl":-0.0243,"xr":1.027},{"t":0.1,"a":-0.0144,"b":1.0144,"c":-0.0135,"d":1.0165,"yb":-0.024,"yt":1.024,"xl":-0.0243,"xr":1.027},{"t":0.15,"a":-0.0144,"b":1.0144,"c":-0.0135,"d":1.0165,"yb":-0.024,"yt":1.024,"xl":-0.0243,"xr":1.027},{"t":0.2,"a":-0.005,"b":1.005,"c":-0.0027,"d":1.0054,"yb":-0.024,"yt":1.024,"xl":-0.0243,"xr":1.027},{"t":0.25,"a":-0.0144,"b":1.0144,"c":-0.0135,"d":1.0165,"yb":-0.024,"yt":1.024,"xl":-0.0243,"xr":1.027},{"t":0.3,"a":-0.0144,"b":1.0144,"c":-0.0135,"d":1.0165,"yb":-0.024,"yt":1.024,"xl":-0.0243,"xr":1.027},{"t":0.35,"a":-0.0144,"b":1.0144,"c":-0.0135,"d":1.0165,"yb":-0.024,"yt":1.024,"xl":-0.0243,"xr":1.027},{"t":0.4,"a":-0.005,"b":1.005,"c":-0.0027,"d":1.0054,"yb":-0.024,"yt":1.024,"xl":-0.0243,"xr":1.027},{"t":0.45,"a":-0.0144,"b":1.0144,"c":-0.0135,"d":1.0165,"yb":-0.024,"yt":1.024,"xl":-0.0243,"xr":1.027},{"t":0.5,"a":-0.0144,"b":1.0144,"c":-0.0135,"d":1.0165,"yb":-0.024,"yt":1.024,"xl":-0.0243,"xr":1.027},{"t":0.55,"a":-0.0144,"b":1.0144,"c":-0.0135,"d":1.0165,"yb":-0.024,"yt":1.024,"xl":-0.0243,"xr":1.027},{"t":0.6,"a":-0.005,"b":1.005,"c":-0.0027,"d":1.0054,"yb":-0.024,"yt":1.024,"xl":-0.0243,"xr":1.027},{"t":0.65,"a":-0.0144,"b":1.0144,"c":-0.0135,"d":1.0165,"yb":-0.024,"yt":1.024,"xl":-0.0243,"xr":1.027},{"t":0.7,"a":-0.0144,"b":1.0144,"c":-0.0135,"d":1.0165,"yb":-0.024,"yt":1.024,"xl":-0.0243,"xr":1.027},{"t":0.75,"a":-0.0144,"b":1.0144,"c":-0.0135,"d":1.0165,"yb":-0.024,"yt":1.024,"xl":-0.0243,"xr":1.027},{"t":0.8,"a":-0.005,"b":1.005,"c":-0.0027,"d":1.0054,"yb":-0.024,"yt":1.024,"xl":-0.0243,"xr":1.027},{"t":0.85,"a":-0.0144,"b":1.0144,"c":-0.0135,"d":1.0165,"yb":-0.024,"yt":1.024,"xl":-0.0243,"xr":1.027},{"t":0.9,"a":-0.0144,"b":1.0144,"c":-0.0135,"d":1.0165,"yb":-0.024,"yt":1.024,"xl":-0.0243,"xr":1.027},{"t":0.95,"a":-0.0144,"b":1.0144,"c":-0.0135,"d":1.0165,"yb":-0.024,"yt":1.024,"xl":-0.0243,"xr":1.027},{"t":1,"a":-0.005,"b":1.005,"c":-0.0027,"d":1.0054,"yb":-0.024,"yt":1.024,"xl":-0.0243,"xr":1.027}],
"bt":[{"t":3,"e":0.875,"r":1},{"t":4,"e":0.875,"r":1},{"t":5,"e":0.875,"r":1},{"t":6,"e":0.875,"r":1},{"t":7,"e":0.875,"r":1},{"t":8,"e":0.875,"r":1},{"t":9,"e":0.875,"r":1},{"t":10,"e":0.71,"r":1},{"t":20,"e":0.875,"r":1},{"t":30,"e":0.875,"r":1},{"t":40,"e":0.875,"r":1},{"t":50,"e":0.875,"r":1},{"t":60,"e":0.875,"r":1},{"t":70,"e":0.875,"r":1},{"t":80,"e":0.875,"r":1},{"t":90,"e":0.875,"r":1},{"t":100,"e":0.71,"r":1},{"t":200,"e":0.875,"r":1},{"t":300,"e":0.875,"r":1},{"t":400,"e":0.875,"r":1},{"t":500,"e":0.875,"r":1},{"t":600,"e":0.875,"r":1},{"t":700,"e":0.875,"r":1},{"t":800,"e":0.875,"r":1},{"t":900,"e":0.875,"r":1},{"t":1000,"e":0.71,"r":1},{"t":2000,"e":0.875,"r":1},{"t":3000,"e":0.875,"r":1}],
"ba":[{"lo":2.74,"hi":2143,"l":0,"r":1}],"bb":[{"lo":2.67,"hi":3040,"l":0,"r":1}]},
"hconcat":[{"spacing":2,"bounds":"flush","hconcat":[
{"width":389,"height":437,"title":{"text":"Rn222 LAr Bulk vs. TPB Bulk","anchor":"start","frame":"group","dx":-28,"offset":26,"font":"Liberation Sans","fontWeight":"bold","fontSize":21.2,"color":"#000000"},"layer":[{"data":{"name":"a"},"mark":{"type":"rect","width":20,"height":22,"clip":true},"encoding":{"x":{"field":"x","type":"quantitative","scale":{"domain":[-0.0243,1.027],"nice":false,"zero":false},"axis":{"values":[0,0.2,0.4,0.6,0.8,1],"format":".1~f","labelAngle":0,"ticks":false,"labelPadding":9,"grid":true,"gridDash":[1,2],"gridColor":"#000000","gridOpacity":0.6,"zindex":1,"domainColor":"#555555","title":"TPB Bulk","titleFont":"Liberation Serif","titleFontSize":12.5,"titleFontWeight":"normal","titleColor":"#222222","titleAlign":"right","titleX":392,"titleY":26}},"y":{"field":"y","type":"quantitative","scale":{"domain":[-0.024,1.024],"nice":false,"zero":false},"axis":{"values":[0,0.2,0.4,0.6,0.8,1],"format":".1~f","ticks":false,"labelPadding":8,"grid":true,"gridDash":[1,2],"gridColor":"#000000","gridOpacity":0.6,"zindex":1,"domainColor":"#555555","title":null}},"color":{"field":"v","type":"quantitative","legend":null,"scale":{"type":"log","interpolate":"rgb","domain":[2.74,6.3,14.5,33.3,76.7,176,406,933,2143],"range":["#352a87","#0f5cdd","#1481d6","#06a4ca","#2eb7a4","#87bf77","#d1bb59","#fec832","#f9fb0e"],"clamp":true}}}},{"data":{"name":"af"},"mark":{"type":"rect","width":10,"height":11.5,"clip":true},"encoding":{"x":{"field":"x","type":"quantitative"},"y":{"field":"y","type":"quantitative"},"color":{"field":"v","type":"quantitative","legend":null}}},{"data":{"name":"t"},"mark":{"type":"rule","color":"#222222","opacity":0.8},"encoding":{"x":{"field":"t","type":"quantitative"},"y":{"field":"yb","type":"quantitative"},"y2":{"field":"a"}}},{"data":{"name":"t"},"mark":{"type":"rule","color":"#222222","opacity":0.8},"encoding":{"x":{"field":"t","type":"quantitative"},"y":{"field":"yt","type":"quantitative"},"y2":{"field":"b"}}},{"data":{"name":"t"},"mark":{"type":"rule","color":"#222222","opacity":0.8},"encoding":{"y":{"field":"t","type":"quantitative"},"x":{"field":"xl","type":"quantitative"},"x2":{"field":"c"}}},{"data":{"name":"t"},"mark":{"type":"rule","color":"#222222","opacity":0.8},"encoding":{"y":{"field":"t","type":"quantitative"},"x":{"field":"xr","type":"quantitative"},"x2":{"field":"d"}}}]},
{"width":24,"height":437,"view":{"stroke":null},"layer":[{"data":{"name":"ba"},"mark":{"type":"rect","color":{"gradient":"linear","x1":0,"y1":1,"x2":0,"y2":0,"stops":[{"offset":0,"color":"#352a87"},{"offset":0.125,"color":"#0f5cdd"},{"offset":0.25,"color":"#1481d6"},{"offset":0.375,"color":"#06a4ca"},{"offset":0.5,"color":"#2eb7a4"},{"offset":0.625,"color":"#87bf77"},{"offset":0.75,"color":"#d1bb59"},{"offset":0.875,"color":"#fec832"},{"offset":1,"color":"#f9fb0e"}]}},"encoding":{"x":{"field":"l","type":"quantitative","scale":{"domain":[0,1]},"axis":null},"x2":{"field":"r"},"y":{"field":"lo","type":"quantitative","scale":{"type":"log","domain":[2.74,2143],"nice":false},"axis":{"orient":"right","values":[10,100,1000],"labelExpr":"datum.value==10?'10':datum.value==100?'10²':'10³'","ticks":false,"grid":false,"labelPadding":10,"title":null,"domainColor":"#777777"}},"y2":{"field":"hi"}}},{"data":{"name":"bt"},"mark":{"type":"rule","color":"#222222","opacity":0.7,"clip":true},"encoding":{"x":{"field":"e","type":"quantitative"},"x2":{"field":"r"},"y":{"field":"t","type":"quantitative"}}}]}]},
{"spacing":3,"bounds":"flush","hconcat":[
{"width":389,"height":437,"title":{"text":"Rn222 LAr Bulk vs. TPB/LAr Interface","anchor":"start","frame":"group","dx":-42,"offset":28,"font":"Liberation Sans","fontWeight":"bold","fontSize":19,"color":"#000000"},"layer":[{"data":{"name":"b"},"mark":{"type":"rect","width":20,"height":22,"clip":true},"encoding":{"x":{"field":"x","type":"quantitative","scale":{"domain":[-0.0243,1.027],"nice":false,"zero":false},"axis":{"values":[0,0.2,0.4,0.6,0.8,1],"format":".1~f","labelAngle":0,"ticks":false,"labelPadding":9,"grid":true,"gridDash":[1,2],"gridColor":"#000000","gridOpacity":0.6,"zindex":1,"domainColor":"#555555","title":"Rn222 LAr Bulk","titleFont":"Liberation Serif","titleFontSize":12.5,"titleFontWeight":"normal","titleColor":"#222222","titleAlign":"right","titleX":419,"titleY":26}},"y":{"field":"y","type":"quantitative","scale":{"domain":[-0.024,1.024],"nice":false,"zero":false},"axis":{"values":[0,0.2,0.4,0.6,0.8,1],"format":".1~f","ticks":false,"labelPadding":8,"grid":true,"gridDash":[1,2],"gridColor":"#000000","gridOpacity":0.6,"zindex":1,"domainColor":"#555555","title":null}},"color":{"field":"v","type":"quantitative","legend":null,"scale":{"type":"log","interpolate":"rgb","domain":[2.67,6.44,15.5,37.4,90.1,217,523,1260,3040],"range":["#352a87","#0f5cdd","#1481d6","#06a4ca","#2eb7a4","#87bf77","#d1bb59","#fec832","#f9fb0e"],"clamp":true}}}},{"data":{"name":"bf"},"mark":{"type":"rect","width":10,"height":11.5,"clip":true},"encoding":{"x":{"field":"x","type":"quantitative"},"y":{"field":"y","type":"quantitative"},"color":{"field":"v","type":"quantitative","legend":null}}},{"data":{"name":"t"},"mark":{"type":"rule","color":"#222222","opacity":0.8},"encoding":{"x":{"field":"t","type":"quantitative"},"y":{"field":"yb","type":"quantitative"},"y2":{"field":"a"}}},{"data":{"name":"t"},"mark":{"type":"rule","color":"#222222","opacity":0.8},"encoding":{"x":{"field":"t","type":"quantitative"},"y":{"field":"yt","type":"quantitative"},"y2":{"field":"b"}}},{"data":{"name":"t"},"mark":{"type":"rule","color":"#222222","opacity":0.8},"encoding":{"y":{"field":"t","type":"quantitative"},"x":{"field":"xl","type":"quantitative"},"x2":{"field":"c"}}},{"data":{"name":"t"},"mark":{"type":"rule","color":"#222222","opacity":0.8},"encoding":{"y":{"field":"t","type":"quantitative"},"x":{"field":"xr","type":"quantitative"},"x2":{"field":"d"}}}]},
{"width":24,"height":437,"view":{"stroke":null},"layer":[{"data":{"name":"bb"},"mark":{"type":"rect","color":{"gradient":"linear","x1":0,"y1":1,"x2":0,"y2":0,"stops":[{"offset":0,"color":"#352a87"},{"offset":0.125,"color":"#0f5cdd"},{"offset":0.25,"color":"#1481d6"},{"offset":0.375,"color":"#06a4ca"},{"offset":0.5,"color":"#2eb7a4"},{"offset":0.625,"color":"#87bf77"},{"offset":0.75,"color":"#d1bb59"},{"offset":0.875,"color":"#fec832"},{"offset":1,"color":"#f9fb0e"}]}},"encoding":{"x":{"field":"l","type":"quantitative","scale":{"domain":[0,1]},"axis":null},"x2":{"field":"r"},"y":{"field":"lo","type":"quantitative","scale":{"type":"log","domain":[2.67,3040],"nice":false},"axis":{"orient":"right","values":[10,100,1000],"labelExpr":"datum.value==10?'10':datum.value==100?'10²':'10³'","ticks":false,"grid":false,"labelPadding":10,"title":null,"domainColor":"#777777"}},"y2":{"field":"hi"}}},{"data":{"name":"bt"},"mark":{"type":"rule","color":"#222222","opacity":0.7,"clip":true},"encoding":{"x":{"field":"e","type":"quantitative"},"x2":{"field":"r"},"y":{"field":"t","type":"quantitative"}}}]}]}],"spacing":554}
